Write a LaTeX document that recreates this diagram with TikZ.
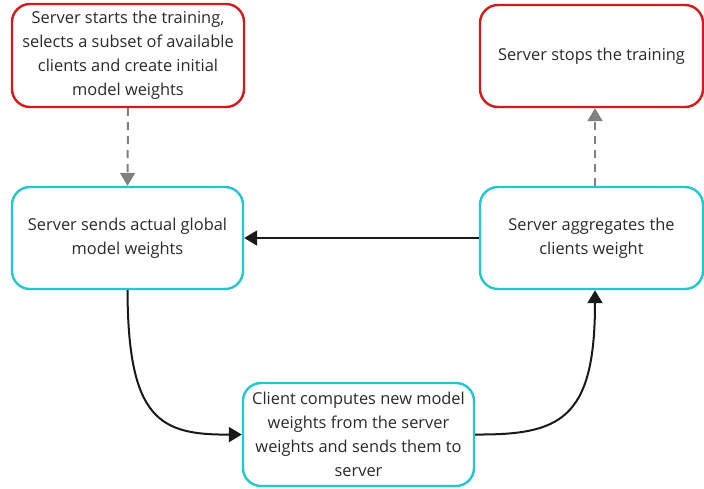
\documentclass[tikz,border=0pt]{standalone}
\usepackage{fontspec}
\setmainfont{Open Sans}
\usetikzlibrary{arrows.meta}
\definecolor{redb}{HTML}{D41A1A}
\definecolor{cyanb}{HTML}{22C7D1}
\definecolor{txt}{HTML}{2A2A2A}
\definecolor{grayarr}{HTML}{808080}
\tikzset{
  box/.style={draw, line width=2.4pt, rounded corners=18pt, fill=white, inner sep=0pt,
    align=center, text=txt, font=\fontsize{16.4}{24}\selectfont},
  redbox/.style={box, draw=redb},
  cyanbox/.style={box, draw=cyanb},
  dasharr/.style={draw=grayarr, line width=2pt, dash pattern=on 8pt off 6pt, -{Triangle[width=15pt,length=13pt]}},
  solidarr/.style={draw=black!90, line width=2pt, -{Triangle[width=15pt,length=13pt]}},
}
\begin{document}
\begin{tikzpicture}[x=1pt,y=-1pt]
\useasboundingbox (0,0) rectangle (704,488);
\node[redbox, minimum width=232pt, minimum height=103pt] (start) at (128,55.5) {Server starts the training,\\selects a subset of available\\clients and create initial\\model weights};
\node[redbox, minimum width=223pt, minimum height=102pt] (stop) at (591.5,56) {Server stops the training};
\node[cyanbox, minimum width=231pt, minimum height=102pt] (send) at (127.5,238) {Server sends actual global\\model weights};
\node[cyanbox, minimum width=223pt, minimum height=102pt] (agg) at (591.5,238) {Server aggregates the\\clients weight};
\node[cyanbox, minimum width=231pt, minimum height=103pt] (client) at (358.5,434.5) {Client computes new model\\weights from the server\\weights and sends them to\\server};
\draw[dasharr] (start.south) -- (send.north);
\draw[dasharr] (agg.north -| 595,0) -- (stop.south -| 595,0);
\draw[solidarr] (agg.west) -- (send.east);
\draw[solidarr] (send.south) .. controls (128,420) and (160,435) .. (client.west);
\draw[solidarr] (client.east) .. controls (560,435) and (595,420) .. (agg.south -| 595,0);
\end{tikzpicture}
\end{document}
